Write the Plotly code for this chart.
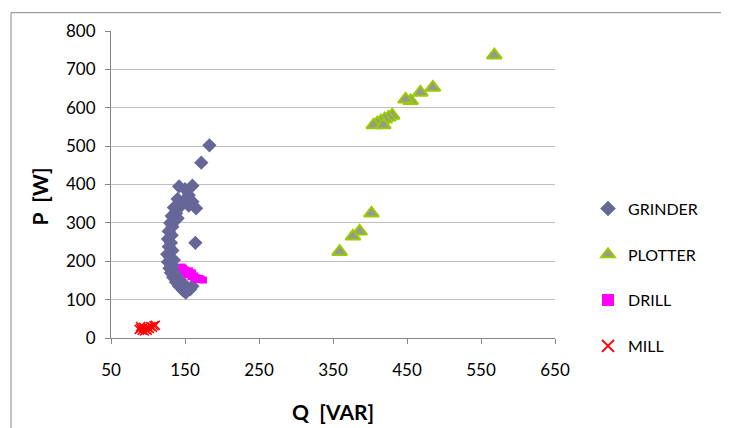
import plotly.graph_objects as go

# ---- data ----
grinder_q = [183, 172, 142, 160, 150, 155, 140, 150, 160, 145, 135, 165, 155,
             138, 132, 140, 135, 130, 133, 128, 132, 127, 131, 164,
             128, 133, 126, 130, 135, 127, 133, 129, 137, 131, 140, 134,
             143, 138, 148, 142, 153, 147, 157, 151, 160]
grinder_p = [502, 457, 395, 397, 388, 372, 362, 358, 355, 345, 340, 338, 345,
             325, 318, 312, 305, 300, 290, 278, 268, 258, 248, 248,
             238, 228, 218, 210, 203, 198, 190, 182, 176, 170, 165, 158,
             152, 145, 140, 135, 132, 125, 127, 118, 135]

plotter_q = [568, 485, 468, 455, 448, 430, 425, 420, 415, 410, 405, 418,
             402, 386, 377, 359]
plotter_p = [737, 653, 640, 618, 622, 580, 575, 570, 565, 560, 555, 555,
             325, 278, 265, 225]

drill_q = [146, 148, 150, 152, 155, 150, 157, 153, 160, 158, 163, 165, 162, 167,
           170, 168, 172, 156, 160, 175]
drill_p = [185, 182, 178, 175, 172, 170, 168, 165, 165, 160, 162, 158, 155, 156,
           155, 152, 153, 175, 170, 151]

mill_q = [88, 90, 92, 94, 96, 98, 100, 102, 104, 106, 108, 95, 90, 110, 99]
mill_p = [22, 25, 20, 28, 24, 22, 27, 25, 30, 28, 32, 18, 30, 33, 20]

x_ticks = [50, 150, 250, 350, 450, 550, 650]
y_ticks = [0, 100, 200, 300, 400, 500, 600, 700, 800]

FONT = "Lato, Carlito, Calibri, 'Open Sans', sans-serif"

# plot area geometry (page offset of 8px body margin accounted for)
L, T, PW, PH = 103, 20, 444, 310

def px_x(px):  # reference-page pixel -> paper x
    return (px - 111) / PW

def px_y(py):  # reference-page pixel -> paper y
    return (338 - py) / PH

fig = go.Figure()
fig.add_trace(go.Scatter(x=grinder_q, y=grinder_p, mode="markers", name="GRINDER",
                         legendgroup="g1",
                         marker=dict(symbol="diamond", size=11, color="#666699",
                                     line=dict(width=0))))
fig.add_trace(go.Scatter(x=plotter_q, y=plotter_p, mode="markers", name="PLOTTER",
                         legendgroup="g2",
                         marker=dict(symbol="triangle-up", size=13, color="#969696",
                                     line=dict(width=2, color="#99CC00"))))
fig.add_trace(go.Scatter(x=drill_q, y=drill_p, mode="markers", name="DRILL",
                         legendgroup="g3",
                         marker=dict(symbol="square", size=7, color="#FF00FF",
                                     line=dict(width=0))))
fig.add_trace(go.Scatter(x=mill_q, y=mill_p, mode="markers", name="MILL",
                         legendgroup="g4",
                         marker=dict(symbol="x-thin", size=9, color="#FF0000",
                                     line=dict(width=1.5, color="#FF0000"))))

fig.update_layout(
    width=L + PW + 174, height=T + PH + 90,
    margin=dict(l=L, r=174, t=T, b=90),
    paper_bgcolor="white", plot_bgcolor="white",
    font=dict(family=FONT, size=17, color="black"),
    showlegend=True,
    legend=dict(x=px_x(588), y=px_y(277), xanchor="left", yanchor="middle",
                font=dict(size=16), tracegroupgap=22, itemsizing="constant",
                bgcolor="rgba(0,0,0,0)"),
    xaxis=dict(range=[50, 650], tickvals=x_ticks, ticktext=[str(v) for v in x_ticks],
               showgrid=False, zeroline=False, showline=True, linecolor="#868686",
               linewidth=1, ticks="outside", ticklen=5, tickcolor="#868686",
               ticklabelstandoff=12, tickfont=dict(size=17)),
    yaxis=dict(range=[0, 800], tickvals=y_ticks, ticktext=[str(v) for v in y_ticks],
               showgrid=True, gridcolor="#BFBFBF", gridwidth=1, zeroline=False,
               showline=True, linecolor="#868686", linewidth=1, ticks="outside",
               ticklen=5, tickcolor="#868686", ticklabelstandoff=6,
               tickfont=dict(size=17)),
    annotations=[
        dict(text="<b>Q  [VAR]</b>", xref="paper", yref="paper",
             x=px_x(333), y=px_y(412), xanchor="center", yanchor="middle",
             showarrow=False, font=dict(size=21, family=FONT)),
        dict(text="<b>P  [W]</b>", xref="paper", yref="paper",
             x=px_x(39), y=px_y(195), xanchor="center", yanchor="middle",
             textangle=-90, showarrow=False, font=dict(size=21, family=FONT)),
    ],
    shapes=[dict(type="rect", xref="paper", yref="paper",
                 x0=px_x(11), x1=px_x(740),
                 y0=px_y(440), y1=px_y(9.5),
                 line=dict(color="#868686", width=1), layer="below")],
)

fig.write_html("out.html")
